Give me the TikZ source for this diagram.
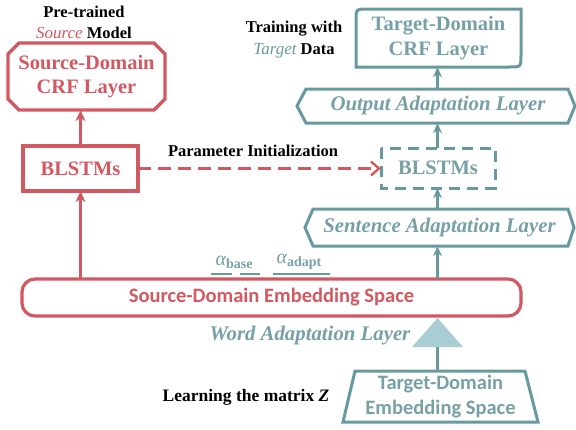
\documentclass[tikz,border=0pt]{standalone}
\usepackage{fontspec}
\setmainfont{Liberation Serif}
\newfontfamily\calfont{Carlito}
\usetikzlibrary{arrows.meta,calc}
\definecolor{cred}{RGB}{210,88,97}
\definecolor{cteal}{RGB}{104,152,160}
\definecolor{ctealtxt}{RGB}{118,160,166}
\definecolor{ctri}{RGB}{168,206,212}
\begin{document}
\begin{tikzpicture}[x=1pt,y=-1pt,
  boxn/.style={inner sep=0pt, align=center},
  bigbf/.style={font=\fontsize{20.5}{24.5}\selectfont\bfseries},
  bigit/.style={font=\fontsize{20.8}{24}\selectfont\bfseries\itshape},
  calbf/.style={font=\fontsize{20.5}{25}\selectfont\calfont\bfseries},
  lbl/.style={inner sep=0pt, align=center, font=\fontsize{16.5}{21}\selectfont\bfseries},
  redline/.style={draw=cred, line width=3.2pt},
  tealline/.style={draw=cteal, line width=3pt},
  redarr/.style={draw=cred, line width=2.8pt, -{Stealth[length=11pt,width=10pt]}},
  tealarr/.style={draw=cteal, line width=2.6pt, -{Stealth[length=10pt,width=9pt]}},
  dasharr/.style={draw=cred, line width=2.4pt, dash pattern=on 13pt off 7pt, -{Straight Barb[length=8pt,width=14pt]}}
]
\useasboundingbox (0,0) rectangle (576,429);

% ---------- left column (source) ----------
\node[lbl] (pre) at (84,12) {Pre-trained};
\node[lbl] (srcmodel) at (84,33) {\textcolor{cred}{\fontsize{17}{21}\selectfont\itshape\mdseries Source} Model};

\node[boxn, bigbf, text=cred, minimum width=157pt, minimum height=67pt] (srccrf) at (86.5,76.5) {Source-Domain\\CRF Layer};
\draw[redline] (19,43) -- (154,43) -- (165,54) -- (165,99) -- (154,110) -- (19,110) -- (8,99) -- (8,54) -- cycle;

\node[boxn, bigbf, text=cred, minimum width=115pt, minimum height=45pt] (srcbl) at (80.5,168.5) {BLSTMs};
\draw[redline] (23,146) rectangle (138,191);

\node[boxn, calbf, text=cred, minimum width=499pt, minimum height=37pt] (emb) at (271.5,297.5) {Source-Domain Embedding Space};
\draw[redline, rounded corners=13pt] (22,279) rectangle (521,316);

% ---------- right column (target) ----------
\node[lbl] (train) at (294,29) {Training with};
\node[lbl] (tdata) at (294,51) {\textcolor{cteal}{\fontsize{17}{21}\selectfont\itshape\mdseries Target} Data};

\node[boxn, bigbf, text=ctealtxt, minimum width=165pt, minimum height=58pt] (tgtcrf) at (438.5,38) {Target-Domain\\CRF Layer};
\draw[tealline] (356,67) -- (356,21) .. controls (356,9) .. (368,9) -- (521,9) -- (521,55) .. controls (521,67) .. (509,67) -- cycle;

\node[boxn, bigit, text=ctealtxt, minimum width=278pt, minimum height=34pt] (outp) at (438,106) {Output Adaptation Layer};
\draw[tealline] (306,89) -- (568,89) -- (575,106) -- (568,123) -- (306,123) -- (297,106) -- cycle;

\node[boxn, bigbf, text=ctealtxt, minimum width=114pt, minimum height=40pt] (tgtbl) at (438,168) {BLSTMs};
\draw[tealline, dash pattern=on 11pt off 7pt] (381,148) rectangle (495,188);

\node[boxn, bigit, text=ctealtxt, minimum width=269pt, minimum height=37pt] (sent) at (439.5,227.5) {Sentence Adaptation Layer};
\draw[tealline] (313,209) -- (568,209) -- (574,227.5) -- (568,246) -- (313,246) -- (305,227.5) -- cycle;

\node[boxn, calbf, text=ctealtxt, minimum width=195pt, minimum height=51pt] (tgtemb) at (440.5,396.5) {Target-Domain\\Embedding Space};
\draw[tealline] (355,371) -- (525,371) -- (538,422) -- (343,422) -- cycle;

% word adaptation triangle
\coordinate (col) at (437.5,0);
\coordinate (tritop) at (437.5,318);
\coordinate (tribase) at (437.5,347);
\fill[ctri] (tritop) -- (463,347) -- (412,347) -- cycle;
\node[inner sep=0pt, bigit, text=ctealtxt] (wal) at (310,336) {Word Adaptation Layer};
\draw[tealline] (tribase) -- (tgtemb.north -| tribase);

% alpha labels
\node[inner sep=0pt, text=ctealtxt] (abase) at (234,262) {\fontsize{20}{20}\selectfont\itshape α\raisebox{-0.3ex}{\fontsize{14}{14}\selectfont\bfseries\upshape base}};
\node[inner sep=0pt, text=ctealtxt] (aadapt) at (299,262) {\fontsize{20}{20}\selectfont\itshape α\raisebox{-0.3ex}{\fontsize{14}{14}\selectfont\bfseries\upshape adapt}};
\draw[tealline, line width=2.4pt] (211,274) -- (232,274);
\draw[tealline, line width=2.4pt] (240,274) -- (260,274);
\draw[tealline, line width=2.4pt] (273,274) -- (330,274);

\node[lbl, font=\fontsize{17.5}{21}\selectfont\bfseries] (learn) at (246,397) {Learning the matrix \textit{Z}};
\node[lbl] (pinit) at (253,151) {Parameter Initialization};

% ---------- connectors ----------
\draw[redarr] (emb.north -| srcbl.south) -- (srcbl.south);
\draw[redarr] (srcbl.north) -- (srcbl.north |- srccrf.south);
\draw[dasharr] (srcbl.east) -- (srcbl.east -| tgtbl.west);

\draw[tealarr] (emb.north -| col) -- (sent.south -| col);
\draw[tealarr] (sent.north -| col) -- (tgtbl.south -| col);
\draw[tealarr] (tgtbl.north -| col) -- (outp.south -| col);
\draw[tealarr] (outp.north -| col) -- (tgtcrf.south -| col);
\end{tikzpicture}
\end{document}
